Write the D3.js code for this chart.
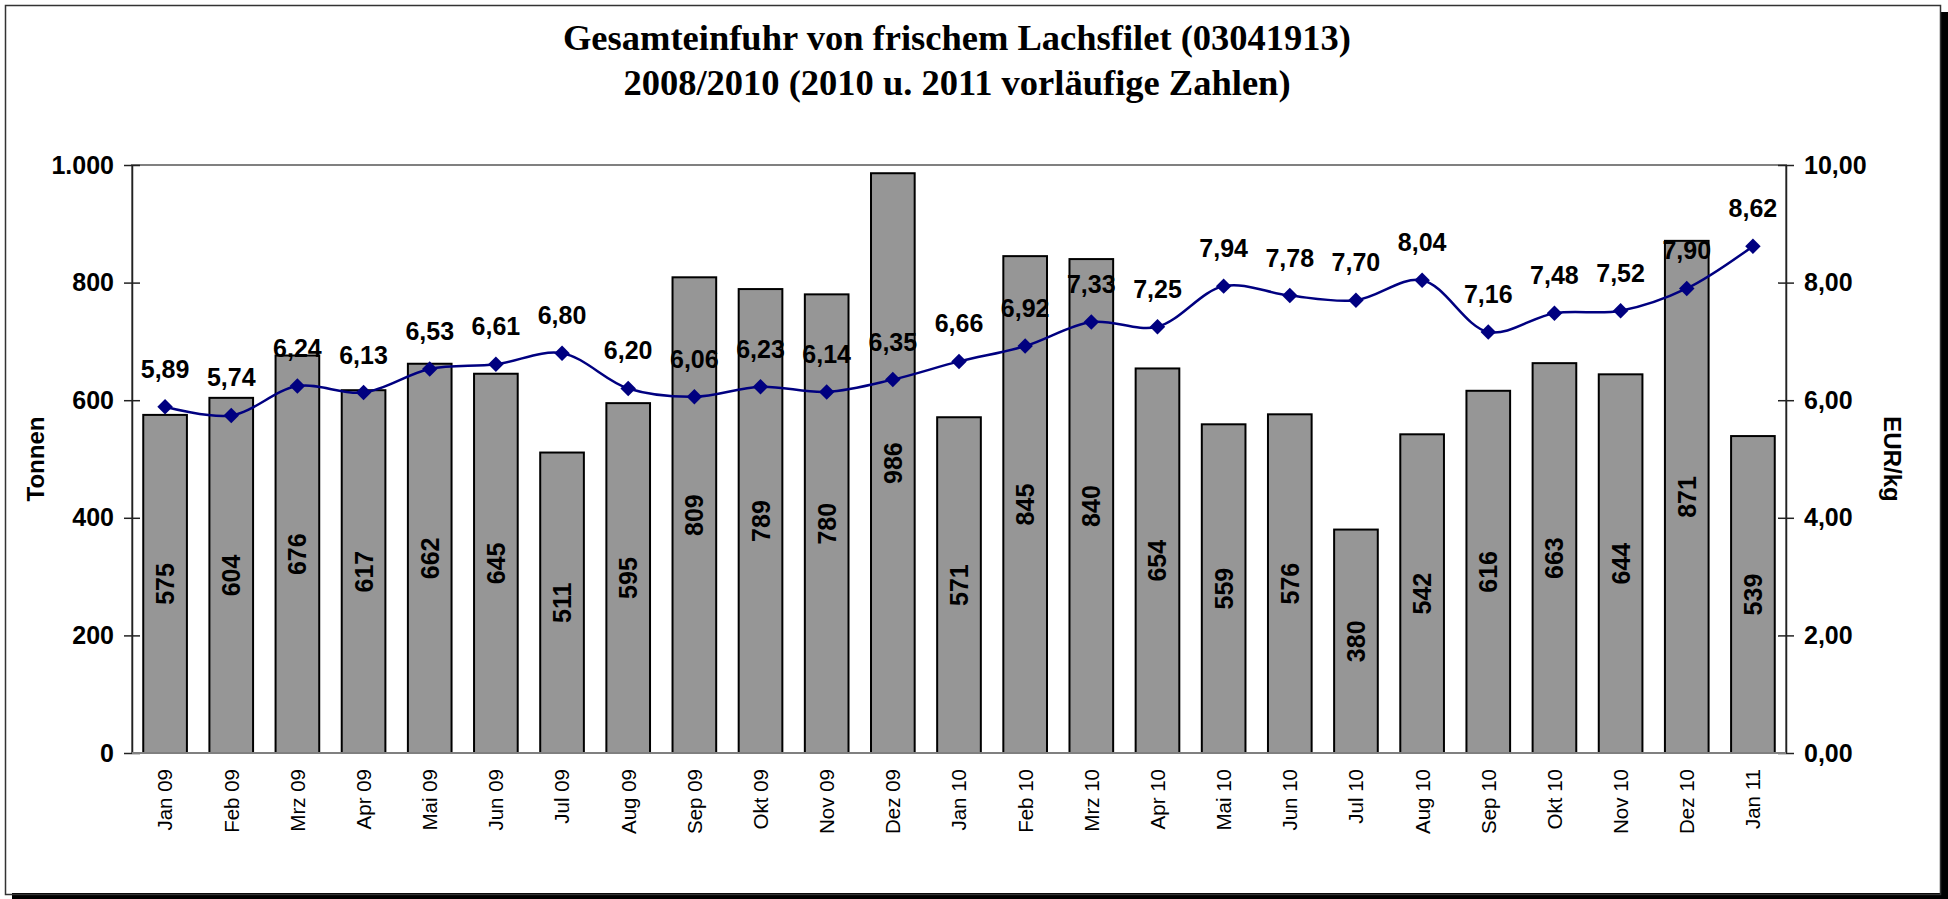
<!DOCTYPE html>
<html>
<head>
<meta charset="utf-8">
<script src="https://cdn.jsdelivr.net/npm/d3@7"></script>
<style>
  body { margin: 0; background: #fff; }
  svg { display: block; }
  text { font-family: 'Liberation Sans', Arial, sans-serif; }
</style>
</head>
<body>
<svg width="1948" height="899"></svg>
<script>
// monthly categories
var months = ['Jan 09', 'Feb 09', 'Mrz 09', 'Apr 09', 'Mai 09', 'Jun 09', 'Jul 09', 'Aug 09', 'Sep 09', 'Okt 09', 'Nov 09', 'Dez 09',
  'Jan 10', 'Feb 10', 'Mrz 10', 'Apr 10', 'Mai 10', 'Jun 10', 'Jul 10', 'Aug 10', 'Sep 10', 'Okt 10', 'Nov 10', 'Dez 10', 'Jan 11']
// import volume in tonnes (bars)
var tonnen = [575, 604, 676, 617, 662, 645, 511, 595, 809, 789, 780, 986,
  571, 845, 840, 654, 559, 576, 380, 542, 616, 663, 644, 871, 539]
// price in EUR/kg (line)
var preis = [5.89, 5.74, 6.24, 6.13, 6.53, 6.61, 6.80, 6.20, 6.06, 6.23, 6.14, 6.35,
  6.66, 6.92, 7.33, 7.25, 7.94, 7.78, 7.70, 8.04, 7.16, 7.48, 7.52, 7.90, 8.62]
var leftTicks = [0, 200, 400, 600, 800, 1000]
var rightTicks = [0, 2, 4, 6, 8, 10]
var titleLines = ['Gesamteinfuhr von frischem Lachsfilet (03041913)', '2008/2010 (2010 u. 2011 vorläufige Zahlen)']

var svg = d3.select('svg')
var width = +svg.attr('width')
var height = +svg.attr('height')
var plot = { left: 132, right: 1786, top: 165, bottom: 753 }

var deNum = d3.formatLocale({ decimal: ',', thousands: '.', grouping: [3], currency: ['', '€'] })
var fmtT = deNum.format(',.0f')
var fmtP = deNum.format(',.2f')

// chart frame with shadow on right and bottom
svg.append('rect').attr('x', 12).attr('y', 893).attr('width', width - 12).attr('height', 6).attr('fill', '#000')
svg.append('rect').attr('x', 1940).attr('y', 12).attr('width', 8).attr('height', height - 12).attr('fill', '#000')
svg.append('rect').attr('x', 5.5).attr('y', 5.5).attr('width', 1935).attr('height', 889)
  .attr('fill', 'none').attr('stroke', '#333').attr('stroke-width', 1.5)

// title
svg.append('g').selectAll('text')
  .data(titleLines)
  .enter().append('text')
    .attr('x', 957)
    .attr('y', function (d, i) { return 50 + i * 45 })
    .attr('text-anchor', 'middle')
    .style('font-family', "'Liberation Serif', 'Times New Roman', serif")
    .style('font-weight', 'bold')
    .style('font-size', '36.5px')
    .text(function (d) { return d })

var x = d3.scaleBand()
  .domain(months)
  .range([plot.left, plot.right])
  .paddingInner(0.34)
  .paddingOuter(0.17)

var yL = d3.scaleLinear().domain([0, 1000]).range([plot.bottom, plot.top])
var yR = d3.scaleLinear().domain([0, 10]).range([plot.bottom, plot.top])

// plot area border
svg.append('rect')
  .attr('x', plot.left).attr('y', plot.top)
  .attr('width', plot.right - plot.left).attr('height', plot.bottom - plot.top)
  .attr('fill', 'none').attr('stroke', '#808080').attr('stroke-width', 2)

// bars
svg.append('g').selectAll('rect')
  .data(tonnen)
  .enter().append('rect')
    .attr('x', function (d, i) { return x(months[i]) })
    .attr('y', function (d) { return yL(d) })
    .attr('width', x.bandwidth())
    .attr('height', function (d) { return yL(0) - yL(d) })
    .attr('fill', '#969696')
    .attr('stroke', '#000')
    .attr('stroke-width', 2)

// bar value labels, rotated inside the bar
svg.append('g').selectAll('text')
  .data(tonnen)
  .enter().append('text')
    .attr('transform', function (d, i) {
      var cx = x(months[i]) + x.bandwidth() / 2
      var cy = (yL(d) + yL(0)) / 2
      return 'translate(' + cx + ',' + cy + ') rotate(-90)'
    })
    .attr('text-anchor', 'middle')
    .attr('dy', '0.36em')
    .style('font-weight', 'bold')
    .style('font-size', '25px')
    .text(function (d) { return fmtT(d) })

// axes
var axisL = d3.axisLeft(yL).tickValues(leftTicks).tickSizeInner(8).tickSizeOuter(0).tickFormat(fmtT)
var axisR = d3.axisRight(yR).tickValues(rightTicks).tickSizeInner(8).tickSizeOuter(0).tickFormat(fmtP)

var gL = svg.append('g').attr('transform', 'translate(' + plot.left + ',0)').call(axisL)
var gR = svg.append('g').attr('transform', 'translate(' + plot.right + ',0)').call(axisR)
;[gL, gR].forEach(function (g) {
  g.select('.domain').attr('stroke', '#222').attr('stroke-width', 1.5)
  g.selectAll('.tick line').attr('stroke', '#222').attr('stroke-width', 1.5)
  g.selectAll('.tick text')
    .attr('fill', '#000')
    .style('font-family', "'Liberation Sans', Arial, sans-serif")
    .style('font-weight', 'bold')
    .style('font-size', '25px')
})
// ticks cross the axis line
gL.selectAll('.tick line').attr('x1', 8).attr('x2', -8)
gL.selectAll('.tick text').attr('x', -18)
gR.selectAll('.tick line').attr('x1', -8).attr('x2', 8)
gR.selectAll('.tick text').attr('x', 18)

// bottom axis labels
svg.append('line')
  .attr('x1', plot.left).attr('x2', plot.right)
  .attr('y1', plot.bottom).attr('y2', plot.bottom)
  .attr('stroke', '#808080').attr('stroke-width', 2)
svg.append('g').selectAll('text')
  .data(months)
  .enter().append('text')
    .attr('transform', function (d) {
      return 'translate(' + (x(d) + x.bandwidth() / 2) + ',' + (plot.bottom + 16) + ') rotate(-90)'
    })
    .attr('text-anchor', 'end')
    .attr('dy', '0.36em')
    .style('font-size', '20.5px')
    .text(function (d) { return d })

// axis titles
svg.append('text')
  .attr('transform', 'translate(35,' + (plot.top + plot.bottom) / 2 + ') rotate(-90)')
  .attr('text-anchor', 'middle')
  .attr('dy', '0.36em')
  .style('font-weight', 'bold')
  .style('font-size', '24px')
  .text('Tonnen')
svg.append('text')
  .attr('transform', 'translate(1893,' + (plot.top + plot.bottom) / 2 + ') rotate(90)')
  .attr('text-anchor', 'middle')
  .attr('dy', '0.36em')
  .style('font-weight', 'bold')
  .style('font-size', '24px')
  .text('EUR/kg')

// price line
var cx = function (d, i) { return x(months[i]) + x.bandwidth() / 2 }
var line = d3.line()
  .x(cx)
  .y(function (d) { return yR(d) })
  .curve(d3.curveCatmullRom.alpha(0.5))

svg.append('path')
  .datum(preis)
  .attr('d', line)
  .attr('fill', 'none')
  .attr('stroke', '#000080')
  .attr('stroke-width', 2.5)

svg.append('g').selectAll('path')
  .data(preis)
  .enter().append('path')
    .attr('d', d3.symbol(d3.symbolSquare, 120))
    .attr('transform', function (d, i) { return 'translate(' + cx(d, i) + ',' + yR(d) + ') rotate(45)' })
    .attr('fill', '#000080')

svg.append('g').selectAll('text')
  .data(preis)
  .enter().append('text')
    .attr('x', cx)
    .attr('y', function (d) { return yR(d) - 29 })
    .attr('text-anchor', 'middle')
    .style('font-weight', 'bold')
    .style('font-size', '25px')
    .text(function (d) { return fmtP(d) })
</script>
</body>
</html>
